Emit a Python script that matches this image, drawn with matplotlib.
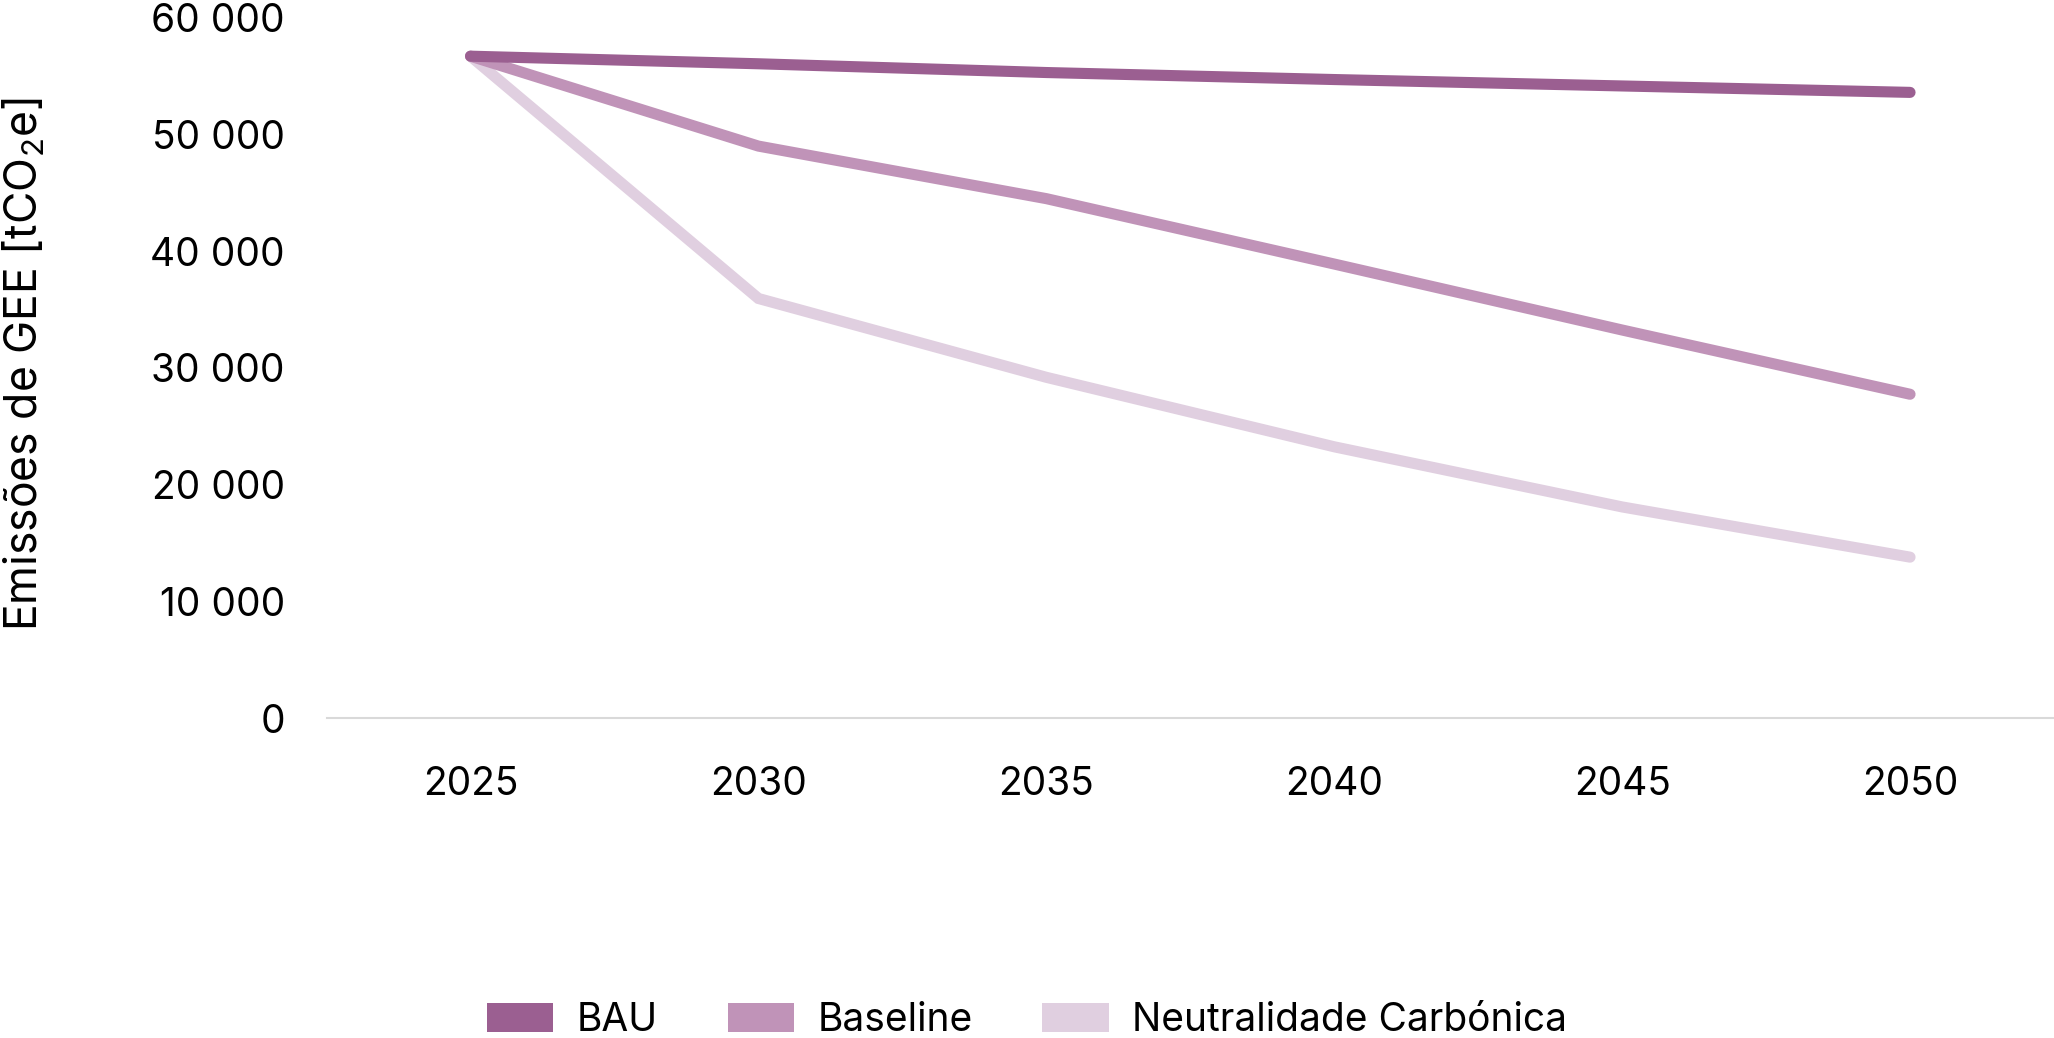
import matplotlib
matplotlib.use('Agg')
import matplotlib.pyplot as plt
from matplotlib.patches import Patch

plt.rcParams['font.family'] = ['Inter', 'DejaVu Sans']
plt.rcParams['mathtext.default'] = 'regular'

years = ['2025', '2030', '2035', '2040', '2045', '2050']
bau = [56700, 56050, 55300, 54700, 54150, 53600]
baseline = [56700, 49000, 44500, 38900, 33250, 27750]
neutral = [56700, 35950, 29200, 23250, 18100, 13800]

series = [('BAU', bau, '#9b5f91'),
          ('Baseline', baseline, '#c093b8'),
          ('Neutralidade Carbónica', neutral, '#e0cfe0')]

fig = plt.figure(figsize=(20.54, 10.38), dpi=100)
ax = fig.add_axes([0.159, 0.308, 0.841, 0.675])

x = list(range(len(years)))
# draw lightest first so BAU sits on top
for name, vals, col in reversed(series):
    ax.plot(x, vals, color=col, lw=8, solid_capstyle='round',
            solid_joinstyle='miter')

ax.set_xlim(-0.5, len(years) - 0.5)
ax.set_ylim(0, 60000)
ax.set_yticks(range(0, 60001, 10000))
ax.set_yticklabels([f'{v:,}'.replace(',', ' ') for v in range(0, 60001, 10000)])
ax.set_xticks(x)
ax.set_xticklabels(years)
ax.tick_params(axis='both', length=0, labelsize=28, colors='black')
ax.tick_params(axis='y', pad=30)
ax.tick_params(axis='x', pad=34)
for s in ['top', 'right', 'left']:
    ax.spines[s].set_visible(False)
ax.spines['bottom'].set_color('#d9d9d9')
ax.spines['bottom'].set_linewidth(1.5)
ax.set_ylabel('Emissões de GEE [tCO$_2$e]', fontsize=32)
ax.yaxis.set_label_coords(-0.162, 0.505)

handles = [Patch(facecolor=c, edgecolor='none', label=n) for n, _, c in series]
fig.legend(handles=handles, loc='center', bbox_to_anchor=(0.5, 0.017),
           ncol=3, frameon=False, fontsize=28, handlelength=1.7,
           handleheight=0.75, handletextpad=0.6, columnspacing=1.8)

fig.savefig('out.png', dpi=100)
